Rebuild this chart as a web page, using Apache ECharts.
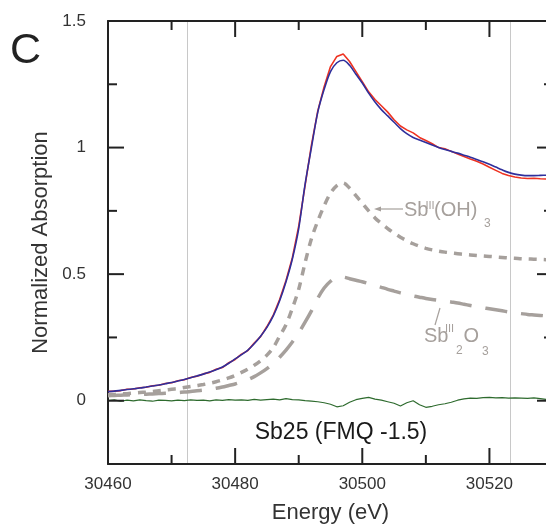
<!DOCTYPE html>
<html><head><meta charset="utf-8">
<script src="https://cdn.jsdelivr.net/npm/echarts@6/dist/echarts.min.js"></script>
<style>html,body{margin:0;padding:0;background:#fff}#c{width:546px;height:531px}</style>
</head><body><div id="c"></div>
<script>
// ---- data ----
const energies = [30460,30461,30462,30463,30464,30465,30466,30467,30468,30469,
  30470,30471,30472,30473,30474,30475,30476,30477,30478,30479,
  30480,30481,30482,30483,30484,30485,30486,30487,30488,30489,
  30490,30491,30492,30493,30494,30495,30496,30497,30498,30499,
  30500,30501,30502,30503,30504,30505,30506,30507,30508,30509,
  30510,30511,30512,30513,30514,30515,30516,30517,30518,30519,
  30520,30521,30522,30523,30524,30525,30526,30527,30528,30529,30530];
const sampleData = [0.037,0.038,0.040,0.045,0.046,0.051,0.053,0.059,0.061,0.068,
  0.071,0.079,0.083,0.092,0.097,0.106,0.112,0.124,0.131,0.150,
  0.163,0.184,0.198,0.228,0.253,0.293,0.338,0.400,0.475,0.565,
  0.690,0.850,1.010,1.145,1.240,1.320,1.360,1.370,1.340,1.300,
  1.260,1.220,1.190,1.165,1.140,1.110,1.085,1.070,1.058,1.040,
  1.028,1.015,1.000,0.995,0.985,0.975,0.965,0.955,0.946,0.935,
  0.922,0.910,0.898,0.890,0.884,0.880,0.878,0.879,0.877,0.876,0.878];
const fitData = [0.036,0.038,0.041,0.044,0.047,0.050,0.054,0.058,0.062,0.067,
  0.072,0.078,0.084,0.091,0.098,0.105,0.113,0.122,0.133,0.148,
  0.165,0.182,0.200,0.225,0.255,0.290,0.335,0.395,0.470,0.560,
  0.680,0.855,1.000,1.140,1.230,1.300,1.335,1.345,1.325,1.290,
  1.255,1.215,1.180,1.150,1.125,1.100,1.075,1.055,1.040,1.030,
  1.020,1.010,1.000,0.992,0.985,0.978,0.970,0.962,0.953,0.944,
  0.934,0.923,0.912,0.902,0.895,0.891,0.889,0.889,0.890,0.891,0.892];
const sbOH3 = [0.024,0.025,0.027,0.028,0.030,0.032,0.034,0.036,0.039,0.042,
  0.045,0.048,0.052,0.056,0.060,0.064,0.069,0.075,0.082,0.090,
  0.100,0.112,0.125,0.140,0.158,0.180,0.210,0.255,0.300,0.365,
  0.440,0.545,0.640,0.710,0.770,0.820,0.850,0.860,0.840,0.810,
  0.780,0.750,0.722,0.700,0.680,0.662,0.646,0.632,0.620,0.610,
  0.602,0.596,0.591,0.587,0.584,0.581,0.578,0.576,0.574,0.572,
  0.570,0.568,0.566,0.564,0.563,0.561,0.560,0.559,0.558,0.557,0.556];
const sb2O3 = [0.020,0.021,0.022,0.023,0.024,0.025,0.026,0.027,0.028,0.029,
  0.030,0.032,0.034,0.036,0.039,0.042,0.045,0.049,0.054,0.060,
  0.066,0.074,0.083,0.095,0.110,0.127,0.147,0.172,0.200,0.232,
  0.268,0.310,0.355,0.405,0.445,0.472,0.487,0.488,0.482,0.476,
  0.470,0.463,0.456,0.448,0.440,0.433,0.426,0.420,0.414,0.409,
  0.404,0.400,0.397,0.394,0.390,0.386,0.381,0.376,0.371,0.367,
  0.363,0.359,0.355,0.351,0.347,0.344,0.341,0.339,0.337,0.335,0.334];
const residual = [0.000,0.003,-0.002,0.002,-0.001,0.003,0.000,-0.002,0.002,0.001,
  -0.001,0.002,0.000,0.003,0.001,0.002,-0.001,0.003,0.001,0.004,
  0.002,0.003,0.001,0.005,0.002,0.004,0.006,0.003,0.008,0.004,
  0.003,0.000,-0.002,-0.004,-0.008,-0.014,-0.024,-0.020,-0.006,0.004,
  0.009,0.013,0.006,0.002,-0.004,-0.010,-0.021,-0.008,0.000,-0.016,
  -0.026,-0.022,-0.016,-0.012,-0.006,0.002,0.007,0.010,0.009,0.012,
  0.013,0.011,0.012,0.010,0.011,0.010,0.009,0.011,0.008,0.005,0.004];
const xLabelValues = [30460, 30480, 30500, 30520];
const xMajorTicks = [30480, 30500, 30520];
const xMinorTicks = [30470, 30490, 30510];
const yLabelValues = [0, 0.5, 1, 1.5];
const yMajorTicks = [0, 0.5, 1, 1.5];
const yMinorTicks = [0.25, 0.75, 1.25];
const referenceLines = [30472.4, 30523.3];
const xRange = [30460, 30530];
const yRange = [-0.25, 1.5];

// ---- chart ----
const FONT = "'Liberation Sans', Arial, Helvetica, sans-serif";
const AXC = '#222';
const GRAY = '#a6a09c';
const pairs = vals => energies.map((e, i) => [e, vals[i]]);

function xAx(pos, labels) {
  return {
    type: 'value', position: pos, min: xRange[0], max: xRange[1],
    axisLine: { show: true, onZero: false, lineStyle: { color: AXC, width: 2 } },
    axisTick: { show: false },
    axisLabel: labels ? { show: true, customValues: xLabelValues, margin: 12, fontSize: 17, color: '#333', fontFamily: FONT,
      formatter: v => String(v) } : { show: false },
    splitLine: { show: false },
    name: labels ? 'Energy (eV)' : '', nameLocation: 'middle', nameGap: 38,
    nameTextStyle: { fontSize: 22, color: '#333', fontFamily: FONT }
  };
}
function yAx(pos, labels) {
  return {
    type: 'value', position: pos, min: yRange[0], max: yRange[1],
    axisLine: { show: true, onZero: false, lineStyle: { color: AXC, width: 2 } },
    axisTick: { show: false },
    axisLabel: labels ? { show: true, customValues: yLabelValues, margin: 22, fontSize: 17, color: '#333', fontFamily: FONT,
      formatter: v => String(v) } : { show: false },
    splitLine: { show: false },
    name: labels ? 'Normalized Absorption' : '', nameLocation: 'middle', nameGap: 55,
    nameTextStyle: { fontSize: 22, color: '#333', fontFamily: FONT }
  };
}

// inside tick marks on all four sides, drawn through the cartesian scale by a custom series
const tickSpecs = [];
xMajorTicks.forEach(v => tickSpecs.push({ axis: 'x', v: v, len: 16 }));
xMinorTicks.forEach(v => tickSpecs.push({ axis: 'x', v: v, len: 9 }));
yMajorTicks.forEach(v => tickSpecs.push({ axis: 'y', v: v, len: 16 }));
yMinorTicks.forEach(v => tickSpecs.push({ axis: 'y', v: v, len: 9 }));
const seg = (x1, y1, x2, y2) => ({ type: 'line', shape: { x1: x1, y1: y1, x2: x2, y2: y2 },
  style: { stroke: AXC, lineWidth: 2 } });
function renderTick(params, api) {
  const t = tickSpecs[params.dataIndex];
  if (t.axis === 'x') {
    const b = api.coord([t.v, yRange[0]]);
    const tp = api.coord([t.v, yRange[1]]);
    return { type: 'group', children: [seg(b[0], b[1], b[0], b[1] - t.len), seg(tp[0], tp[1], tp[0], tp[1] + t.len)] };
  }
  const l = api.coord([xRange[0], t.v]);
  const r = api.coord([xRange[1], t.v]);
  return { type: 'group', children: [seg(l[0], l[1], l[0] + t.len, l[1]), seg(r[0], r[1], r[0] - t.len, r[1])] };
}

const chart = echarts.init(document.getElementById('c'));
const lineSeries = (data, color, width, type, z, smooth) => ({
  type: 'line', data: pairs(data), showSymbol: false, symbol: 'none', smooth: smooth,
  lineStyle: { color: color, width: width, type: type }, z: z,
  animation: false
});

chart.setOption({
  animation: false,
  grid: { left: 108, top: 21, right: -7, bottom: 67, outerBoundsMode: 'none' },
  xAxis: [xAx('bottom', true), xAx('top', false)],
  yAxis: [yAx('left', true), yAx('right', false)],
  series: [
    lineSeries(sbOH3, GRAY, 3.5, [8, 7], 1, 0.3),
    lineSeries(sb2O3, GRAY, 3.5, [22, 14], 1, 0.3),
    lineSeries(residual, '#2e6b2e', 1.2, 'solid', 2, false),
    lineSeries(sampleData, '#ee3322', 1.6, 'solid', 3, false),
    Object.assign(lineSeries(fitData, '#2f2f9c', 1.6, 'solid', 4, 0.3), {
      markLine: {
        silent: true, symbol: ['none', 'none'], label: { show: false }, animation: false, z: 0,
        lineStyle: { color: '#c8c8c8', width: 1, type: 'solid' },
        data: referenceLines.map(v => ({ xAxis: v }))
      }
    }),
    {
      type: 'custom', coordinateSystem: 'cartesian2d', silent: true, clip: false, z: 10, animation: false,
      data: tickSpecs.map(t => [t.axis === 'x' ? t.v : xRange[0], t.axis === 'y' ? t.v : yRange[0]]),
      renderItem: renderTick
    }
  ],
  graphic: [
    { type: 'text', x: 10, y: 51, style: { text: 'C', font: '43px ' + FONT, fill: '#222', verticalAlign: 'middle', align: 'left' } },
    { type: 'text', x: 341, y: 433, style: { text: 'Sb25 (FMQ -1.5)', font: '23px ' + FONT, fill: '#1a1a1a', verticalAlign: 'middle', align: 'center' } },
    // Sb(III)(OH)3 label
    { type: 'line', shape: { x1: 403, y1: 209, x2: 379, y2: 209 }, style: { stroke: GRAY, lineWidth: 1.2 } },
    { type: 'polygon', shape: { points: [[374, 209], [381, 206.5], [381, 211.5]] }, style: { fill: GRAY } },
    { type: 'text', x: 404, y: 210, style: { text: 'Sb', font: '20px ' + FONT, fill: GRAY, verticalAlign: 'middle' } },
    { type: 'text', x: 425.5, y: 206, style: { text: 'III', font: '11px ' + FONT, fill: GRAY, verticalAlign: 'middle' } },
    { type: 'text', x: 434, y: 210, style: { text: '(OH)', font: '20px ' + FONT, fill: GRAY, verticalAlign: 'middle' } },
    { type: 'text', x: 484, y: 223.5, style: { text: '3', font: '12px ' + FONT, fill: GRAY, verticalAlign: 'middle' } },
    // Sb(III)2O3 label
    { type: 'line', shape: { x1: 435, y1: 325, x2: 440, y2: 308 }, style: { stroke: GRAY, lineWidth: 1.2 } },
    { type: 'text', x: 424, y: 336, style: { text: 'Sb', font: '20px ' + FONT, fill: GRAY, verticalAlign: 'middle' } },
    { type: 'text', x: 445, y: 329, style: { text: 'III', font: '11px ' + FONT, fill: GRAY, verticalAlign: 'middle' } },
    { type: 'text', x: 456, y: 351, style: { text: '2', font: '12px ' + FONT, fill: GRAY, verticalAlign: 'middle' } },
    { type: 'text', x: 463.5, y: 336.5, style: { text: 'O', font: '20px ' + FONT, fill: GRAY, verticalAlign: 'middle' } },
    { type: 'text', x: 482, y: 351.5, style: { text: '3', font: '12px ' + FONT, fill: GRAY, verticalAlign: 'middle' } }
  ]
});
</script></body></html>
